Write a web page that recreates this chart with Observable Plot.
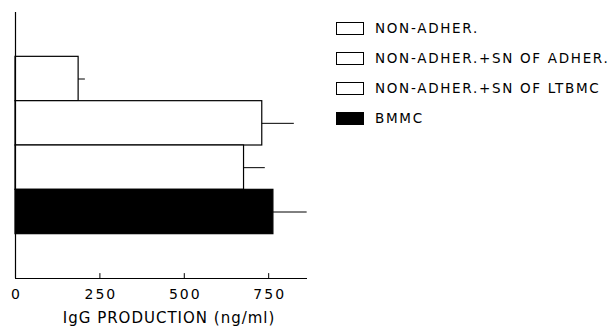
<!DOCTYPE html>
<html>
<head>
<meta charset="utf-8">
<script src="https://cdn.jsdelivr.net/npm/d3@7"></script>
<script src="https://cdn.jsdelivr.net/npm/@observablehq/plot@0.6"></script>
<style>
  html, body { margin: 0; padding: 0; background: #fff; }
  #wrap { position: relative; width: 608px; height: 328px; font-family: "DejaVu Sans", sans-serif; }
  #legend { position: absolute; left: 336px; top: 13px; }
  .row { display: flex; align-items: center; height: 30px; }
  .sw { width: 26px; height: 11px; border: 1px solid #000; box-sizing: content-box; margin-right: 11px; }
  .lab { font-size: 13.5px; letter-spacing: 1.7px; color: #000; white-space: nowrap; }
</style>
</head>
<body>
<div id="wrap"><div id="legend"></div></div>
<script>
const categories = ["NON-ADHER.", "NON-ADHER.+SN OF ADHER.", "NON-ADHER.+SN OF LTBMC", "BMMC"];
const values = [187, 731, 677, 764];
const errors = [20, 95, 63, 100];
const fills = ["#ffffff", "#ffffff", "#ffffff", "#000000"];
const xTicks = [0, 250, 500, 750];
const xLabel = "IgG PRODUCTION (ng/ml)";

// slots: 6 equal rows, the first and last left empty
const nSlots = categories.length + 2;
const data = categories.map((c, i) => ({
  cat: c,
  value: values[i],
  hi: values[i] + errors[i],
  fill: fills[i],
  top: nSlots - 1 - i,
  bottom: nSlots - 2 - i,
  mid: nSlots - 1.5 - i
}));

const chart = Plot.plot({
  width: 608,
  height: 328,
  marginLeft: 15,
  marginTop: 12,
  marginBottom: 50,
  marginRight: 301,
  style: {fontFamily: "DejaVu Sans, sans-serif", background: "#fff", color: "#000"},
  x: {domain: [0, 865]},
  y: {domain: [0, nSlots], axis: null},
  marks: [
    Plot.rectX(data, {y1: "bottom", y2: "top", x1: 0, x2: "value", fill: d => d.fill, stroke: "#000", strokeWidth: 1.2}),
    Plot.ruleY(data, {y: "mid", x1: "value", x2: "hi", stroke: "#000", strokeWidth: 1}),
    Plot.ruleX([0], {stroke: "#000", strokeWidth: 1.2}),
    Plot.ruleY([0], {stroke: "#000", strokeWidth: 1.2}),
    Plot.ruleX(xTicks.slice(1), {y1: 0, y2: 0.11, stroke: "#000", strokeWidth: 1}),
    Plot.axisX({ticks: xTicks, tickSize: 0, tickPadding: 11, fontSize: 14, label: null}),
    Plot.text([xLabel], {frameAnchor: "bottom", x: 455, dy: 44, fontSize: 15, fill: "#000"})
  ]
});
const svg = d3.select(chart.tagName === "svg" ? chart : chart.querySelector("svg"));
svg.selectAll("text").each(function () {
  const t = this.textContent;
  if (t === xLabel) d3.select(this).style("letter-spacing", "1px");
  else if (xTicks.map(String).includes(t)) d3.select(this).style("letter-spacing", "2px").attr("dx", "1");
});
document.getElementById("wrap").prepend(chart);

const legend = document.getElementById("legend");
categories.forEach((c, i) => {
  const row = document.createElement("div");
  row.className = "row";
  const sw = document.createElement("div");
  sw.className = "sw";
  sw.style.background = fills[i];
  const lab = document.createElement("span");
  lab.className = "lab";
  lab.textContent = c;
  row.append(sw, lab);
  legend.append(row);
});
</script>
</body>
</html>
